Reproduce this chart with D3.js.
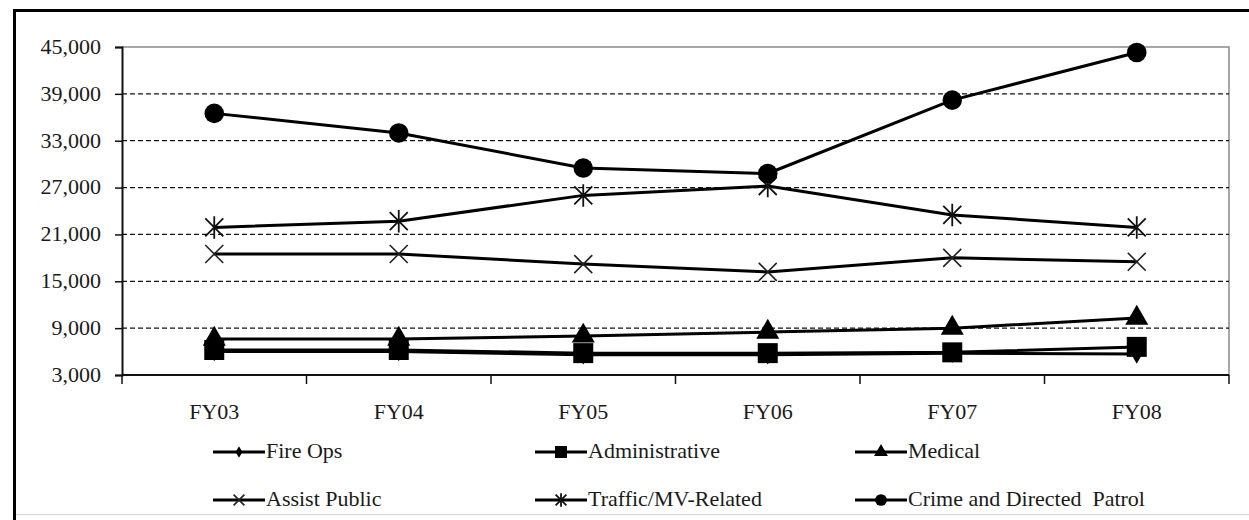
<!DOCTYPE html>
<html>
<head>
<meta charset="utf-8">
<script src="https://cdn.jsdelivr.net/npm/d3@7"></script>
<style>
  html, body { margin: 0; padding: 0; background: #fff; }
  svg { display: block; }
</style>
</head>
<body>
<svg id="chart" width="1249" height="520"></svg>
<script>
// Fiscal years on the category axis
const years = ["FY03", "FY04", "FY05", "FY06", "FY07", "FY08"];

// Incident counts by call type
const fireOps        = [6000, 6000, 5600, 5600, 5800, 5700];
const administrative = [6200, 6200, 5800, 5800, 5900, 6600];
const medical        = [7600, 7600, 8000, 8500, 9000, 10300];
const assistPublic   = [18500, 18500, 17200, 16200, 18000, 17500];
const trafficMV      = [21900, 22700, 26000, 27200, 23500, 21900];
const crimePatrol    = [36500, 34000, 29500, 28800, 38200, 44300];

// Value axis ticks
const yTicks = [3000, 9000, 15000, 21000, 27000, 33000, 39000, 45000];

const seriesNames = ["Fire Ops", "Administrative", "Medical", "Assist Public",
                     "Traffic/MV-Related", "Crime and Directed  Patrol"];
const seriesValues = [fireOps, administrative, medical, assistPublic, trafficMV, crimePatrol];
const seriesMarkers = ["diamond", "square", "triangle", "x", "star", "circle"];

const FONT = "'Liberation Serif', 'Times New Roman', Times, serif";
const svg = d3.select("#chart");
const plot = { left: 122, right: 1229, top: 47, bottom: 375 };
const stretch = 1.1; // horizontal stretch of the serif lettering

function styleText(sel) {
  sel.attr("font-family", FONT).style("font-family", FONT)
    .style("font-size", "20px").attr("fill", "#1a1a1a");
}

// outer frame
svg.append("line").attr("x1", 14).attr("x2", 1249).attr("y1", 10.5).attr("y2", 10.5)
  .attr("stroke", "#000").attr("stroke-width", 3);
svg.append("line").attr("x1", 14.5).attr("x2", 14.5).attr("y1", 9).attr("y2", 520)
  .attr("stroke", "#000").attr("stroke-width", 3);
svg.append("line").attr("x1", 16).attr("x2", 1249).attr("y1", 514.5).attr("y2", 514.5)
  .attr("stroke", "#ddd").attr("stroke-width", 1.5);

const x = d3.scaleBand().domain(years).range([plot.left, plot.right]);
const y = d3.scaleLinear().domain([3000, 45000]).range([plot.bottom, plot.top]);

// plot area frame (top and right)
svg.append("path")
  .attr("d", `M${plot.left},${plot.top}H${plot.right}V${plot.bottom}`)
  .attr("fill", "none").attr("stroke", "#8a8a8a").attr("stroke-width", 1.5);

// dashed gridlines
svg.append("g").selectAll("line")
  .data(yTicks.filter(t => t !== 3000 && t !== 45000))
  .join("line")
  .attr("x1", plot.left).attr("x2", plot.right)
  .attr("y1", d => y(d)).attr("y2", d => y(d))
  .attr("stroke", "#111").attr("stroke-width", 1.3)
  .attr("stroke-dasharray", "5,3");

// y axis
const yAxis = svg.append("g")
  .attr("transform", `translate(${plot.left},0)`)
  .call(d3.axisLeft(y).tickValues(yTicks).tickFormat(d3.format(",")).tickSize(7).tickPadding(0));
yAxis.attr("font-family", FONT);
yAxis.select(".domain").attr("stroke", "#111").attr("stroke-width", 2);
yAxis.selectAll(".tick line").attr("stroke", "#111").attr("stroke-width", 1.5);
yAxis.selectAll(".tick text")
  .attr("x", 0).attr("dy", "0.32em")
  .attr("transform", `translate(-21,0) scale(${stretch},1)`)
  .call(styleText);

// x axis with ticks between categories
const xAxis = svg.append("g").attr("transform", `translate(0,${plot.bottom})`);
xAxis.append("line").attr("x1", plot.left).attr("x2", plot.right)
  .attr("stroke", "#111").attr("stroke-width", 2);
const bounds = years.map(d => x(d)).concat([x(years[years.length - 1]) + x.bandwidth()]);
xAxis.selectAll("line.tk").data(bounds).join("line").attr("class", "tk")
  .attr("x1", d => d).attr("x2", d => d).attr("y1", 0).attr("y2", 9)
  .attr("stroke", "#111").attr("stroke-width", 1.5);
xAxis.selectAll("text").data(years).join("text")
  .attr("text-anchor", "middle")
  .attr("transform", d => `translate(${x(d) + x.bandwidth() / 2},44) scale(${stretch},1)`)
  .call(styleText)
  .text(d => d);

// marker drawing
function drawMarker(g, type, s) {
  const k = s / 20;
  if (type === "x") {
    const r = 9 * k;
    g.append("path").attr("d", `M${-r},${-r}L${r},${r}M${-r},${r}L${r},${-r}`)
      .attr("stroke", "#222").attr("stroke-width", 1.6).attr("fill", "none");
  } else if (type === "star") {
    const r = 9 * k;
    g.append("path").attr("d", `M${-r},${-r}L${r},${r}M${-r},${r}L${r},${-r}M0,${-r * 1.25}V${r * 1.25}`)
      .attr("stroke", "#111").attr("stroke-width", 1.8).attr("fill", "none");
  } else {
    const map = {
      diamond: [d3.symbolDiamond, 110],
      square: [d3.symbolSquare, 400],
      triangle: [d3.symbolTriangle, 230],
      circle: [d3.symbolCircle, 300]
    };
    const [sym, area] = map[type];
    g.append("path").attr("d", d3.symbol(sym, area * k * k)()).attr("fill", "#000");
  }
}

const line = d3.line().x((d, i) => x(years[i]) + x.bandwidth() / 2).y(d => y(d));

seriesValues.forEach((vals, si) => {
  const g = svg.append("g");
  g.append("path").datum(vals).attr("d", line)
    .attr("fill", "none").attr("stroke", "#000").attr("stroke-width", 3)
    .attr("stroke-linejoin", "round");
  vals.forEach((v, i) => {
    const m = g.append("g").attr("transform", `translate(${x(years[i]) + x.bandwidth() / 2},${y(v)})`);
    drawMarker(m, seriesMarkers[si], 20);
  });
});

// legend
const legendCols = [213, 535, 855];
const legendRows = [452, 500];
seriesNames.forEach((name, i) => {
  const lx = legendCols[i % 3];
  const ly = legendRows[Math.floor(i / 3)];
  const g = svg.append("g").attr("transform", `translate(${lx},${ly})`);
  g.append("line").attr("x1", 0).attr("x2", 52).attr("stroke", "#000").attr("stroke-width", 3);
  const m = g.append("g").attr("transform", "translate(26,0)");
  drawMarker(m, seriesMarkers[i], 12);
  g.append("text")
    .attr("transform", `translate(53,0) scale(${stretch},1)`)
    .attr("dy", "0.32em")
    .call(styleText)
    .style("white-space", "pre")
    .text(name);
});
</script>
</body>
</html>
